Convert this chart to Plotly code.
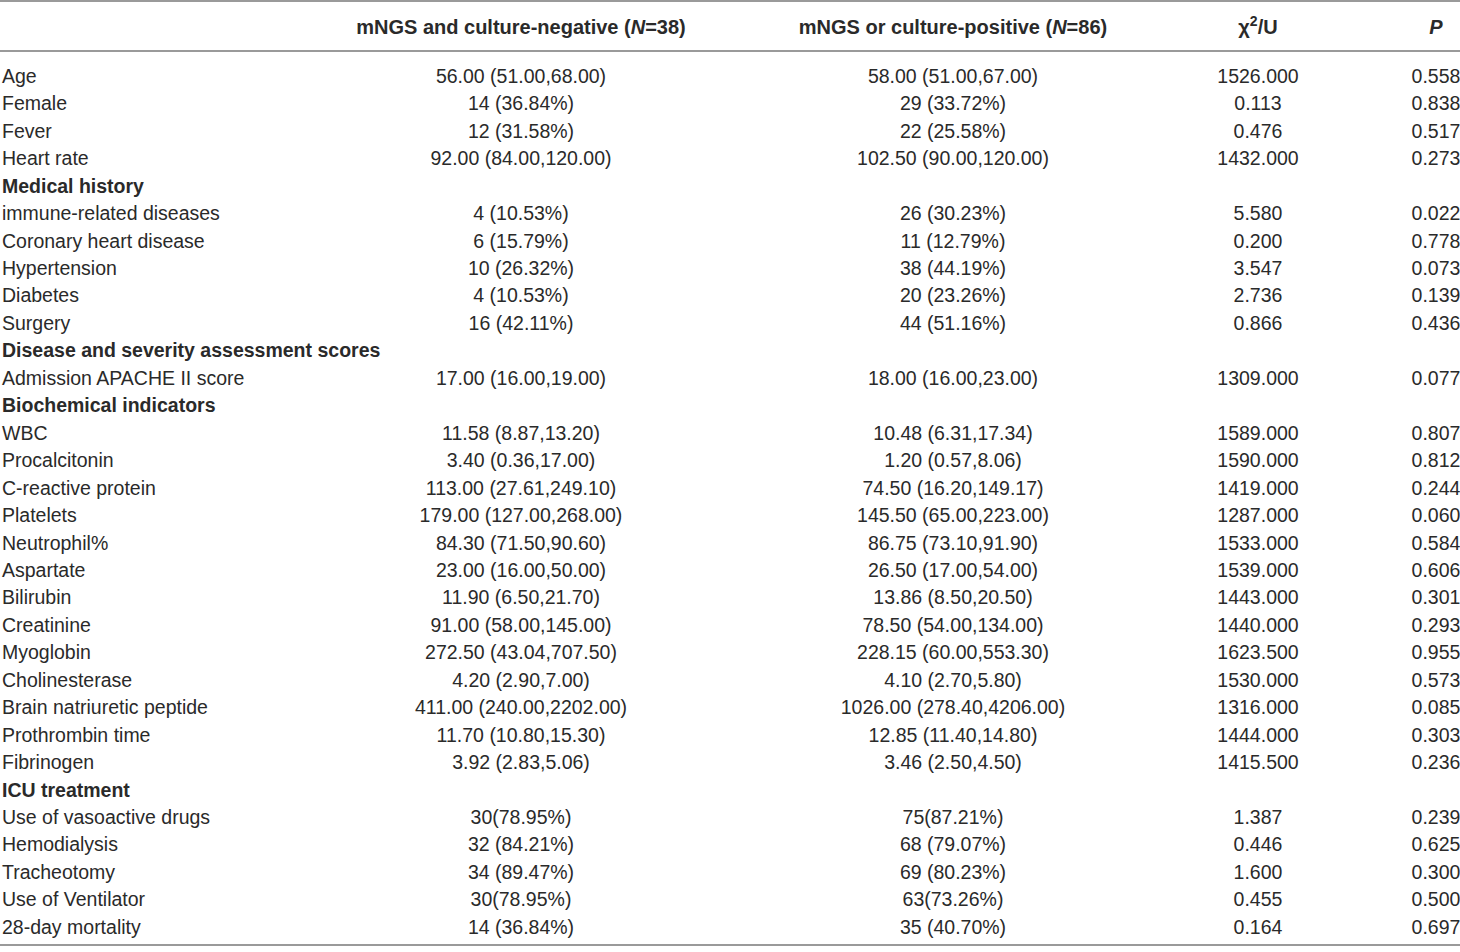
import plotly.graph_objects as go

# Données du tableau
variables = [
    "Age", "Female", "Fever", "Heart rate",
    "Medical history",
    "immune-related diseases", "Coronary heart disease", "Hypertension", "Diabetes", "Surgery",
    "Disease and severity assessment scores",
    "Admission APACHE II score",
    "Biochemical indicators",
    "WBC", "Procalcitonin", "C-reactive protein", "Platelets", "Neutrophil%", "Aspartate",
    "Bilirubin", "Creatinine", "Myoglobin", "Cholinesterase", "Brain natriuretic peptide",
    "Prothrombin time", "Fibrinogen",
    "ICU treatment",
    "Use of vasoactive drugs", "Hemodialysis", "Tracheotomy", "Use of Ventilator", "28-day mortality",
]
sections = ["Medical history", "Disease and severity assessment scores",
            "Biochemical indicators", "ICU treatment"]

negatifs = [
    "56.00 (51.00,68.00)", "14 (36.84%)", "12 (31.58%)", "92.00 (84.00,120.00)",
    "",
    "4 (10.53%)", "6 (15.79%)", "10 (26.32%)", "4 (10.53%)", "16 (42.11%)",
    "",
    "17.00 (16.00,19.00)",
    "",
    "11.58 (8.87,13.20)", "3.40 (0.36,17.00)", "113.00 (27.61,249.10)", "179.00 (127.00,268.00)",
    "84.30 (71.50,90.60)", "23.00 (16.00,50.00)", "11.90 (6.50,21.70)", "91.00 (58.00,145.00)",
    "272.50 (43.04,707.50)", "4.20 (2.90,7.00)", "411.00 (240.00,2202.00)",
    "11.70 (10.80,15.30)", "3.92 (2.83,5.06)",
    "",
    "30(78.95%)", "32 (84.21%)", "34 (89.47%)", "30(78.95%)", "14 (36.84%)",
]
positifs = [
    "58.00 (51.00,67.00)", "29 (33.72%)", "22 (25.58%)", "102.50 (90.00,120.00)",
    "",
    "26 (30.23%)", "11 (12.79%)", "38 (44.19%)", "20 (23.26%)", "44 (51.16%)",
    "",
    "18.00 (16.00,23.00)",
    "",
    "10.48 (6.31,17.34)", "1.20 (0.57,8.06)", "74.50 (16.20,149.17)", "145.50 (65.00,223.00)",
    "86.75 (73.10,91.90)", "26.50 (17.00,54.00)", "13.86 (8.50,20.50)", "78.50 (54.00,134.00)",
    "228.15 (60.00,553.30)", "4.10 (2.70,5.80)", "1026.00 (278.40,4206.00)",
    "12.85 (11.40,14.80)", "3.46 (2.50,4.50)",
    "",
    "75(87.21%)", "68 (79.07%)", "69 (80.23%)", "63(73.26%)", "35 (40.70%)",
]
stats = [
    "1526.000", "0.113", "0.476", "1432.000",
    "",
    "5.580", "0.200", "3.547", "2.736", "0.866",
    "",
    "1309.000",
    "",
    "1589.000", "1590.000", "1419.000", "1287.000", "1533.000", "1539.000", "1443.000",
    "1440.000", "1623.500", "1530.000", "1316.000", "1444.000", "1415.500",
    "",
    "1.387", "0.446", "1.600", "0.455", "0.164",
]
p_values = [
    "0.558", "0.838", "0.517", "0.273",
    "",
    "0.022", "0.778", "0.073", "0.139", "0.436",
    "",
    "0.077",
    "",
    "0.807", "0.812", "0.244", "0.060", "0.584", "0.606", "0.301", "0.293", "0.955",
    "0.573", "0.085", "0.303", "0.236",
    "",
    "0.239", "0.625", "0.300", "0.500", "0.697",
]
headers = ["mNGS and culture-negative (<i>N</i>=38)", "mNGS or culture-positive (<i>N</i>=86)",
           "χ<sup>2</sup>/U", "<i>P</i>"]

# Mise en page
W, H = 1460, 952
ROW = 27.45
Y0 = 78          # centre vertical de la première ligne (px)
FONT = "Liberation Sans, Arial, Helvetica, sans-serif"
TXT = "#2a2a2a"
LINE = "#9a9a9a"
col_x = [0, 519, 951, 1256, 1434]

y_head = (29 - Y0) / ROW

fig = go.Figure()

labels = [f"<b>{v}</b>" if v in sections else v for v in variables]
fig.add_trace(go.Scatter(
    x=[col_x[0]] * len(labels), y=list(range(len(labels))), mode="text", text=labels,
    textposition="middle right", textfont=dict(family=FONT, size=19.5, color=TXT),
    cliponaxis=False, hoverinfo="skip", showlegend=False,
))
for cx, col in zip(col_x[1:], [negatifs, positifs, stats, p_values]):
    idx = [i for i, v in enumerate(col) if v]
    fig.add_trace(go.Scatter(
        x=[cx] * len(idx), y=idx, mode="text", text=[col[i] for i in idx],
        textposition="middle center", textfont=dict(family=FONT, size=19.5, color=TXT),
        cliponaxis=False, hoverinfo="skip", showlegend=False,
    ))

fig.add_trace(go.Scatter(
    x=col_x[1:], y=[y_head] * 4, mode="text",
    text=[f"<b>{h}</b>" for h in headers],
    textposition="middle center", textfont=dict(family=FONT, size=20, color=TXT),
    cliponaxis=False, hoverinfo="skip", showlegend=False,
))

# Lignes horizontales
for py in [1, 51, 945]:
    fig.add_shape(type="line", xref="paper", x0=0, x1=1,
                  yref="y", y0=(py - Y0) / ROW, y1=(py - Y0) / ROW,
                  line=dict(color=LINE, width=2))

fig.update_layout(
    width=W, height=H,
    margin=dict(l=0, r=0, t=0, b=0),
    paper_bgcolor="white", plot_bgcolor="white",
    xaxis=dict(range=[-2, W - 2], visible=False, fixedrange=True),
    yaxis=dict(range=[(H - Y0) / ROW, -Y0 / ROW], visible=False, fixedrange=True),
)

fig.write_html("out.html", config={"staticPlot": True},
               post_script="document.body.style.margin='0';document.body.style.overflow='hidden';")
